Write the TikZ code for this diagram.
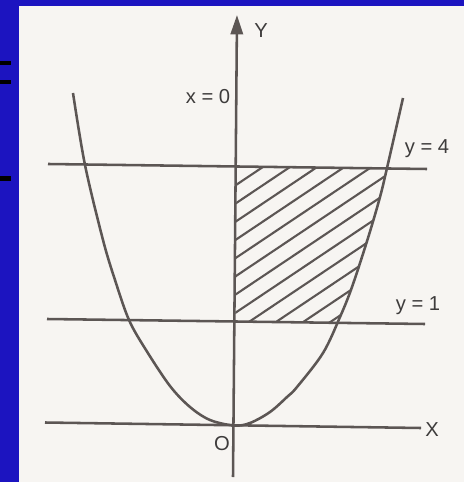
\documentclass[tikz,border=0pt]{standalone}
\usepackage{fontspec}
\setmainfont{Liberation Sans}
\usetikzlibrary{arrows.meta}
\definecolor{slideblue}{RGB}{28,20,192}
\definecolor{paper}{RGB}{247,245,242}
\definecolor{ink}{RGB}{92,86,84}
\definecolor{txt}{RGB}{62,60,60}
\begin{document}
\begin{tikzpicture}[x=0.02cm,y=-0.02cm,
  line/.style={draw=ink,line width=1.45pt},
  hatch/.style={draw=ink,line width=1.2pt},
  lab/.style={text=txt,font=\fontsize{11.5}{13}\selectfont,inner sep=0pt},
  tickbar/.style={fill=black}]
\useasboundingbox (0,0) rectangle (464,482);
\fill[slideblue] (0,0) rectangle (464,482);
\fill[paper] (19,6) rectangle (464,482);
\fill[tickbar] (0,61) rectangle (11,65);
\fill[tickbar] (0,80) rectangle (11,84);
\fill[tickbar] (0,176) rectangle (11,181);
% named end points
\coordinate (y4L) at (48,164);  \coordinate (y4R) at (427,169);
\coordinate (y1L) at (47,319);  \coordinate (y1R) at (425,324);
\coordinate (xL)  at (45,422.5);\coordinate (xR)  at (421,428);
\coordinate (yB)  at (233,477); \coordinate (yT)  at (237,15);
% hatching
\begin{scope}
  \clip (236.5,166.5) -- (235.4,321.3) -- (337.6,322.8) -- (340,317) -- (352,287) -- (360,263) -- (368,238) -- (373,218) -- (380,197) -- (387,168.5) -- cycle;
  \foreach \k in {0,...,11} {
    \pgfmathsetmacro\cc{185+18.2*\k}
    \draw[hatch] (226,{\cc+10*0.67}) -- (400,{\cc-164*0.67});
  }
\end{scope}
% lines
\draw[line] (y4L) -- (y4R);
\draw[line] (y1L) -- (y1R);
\draw[line] (xL) -- (xR);
\draw[line,-{Triangle[length=11pt,width=7pt]}] (yB) -- (yT);
% curve
\draw[line] plot[smooth,tension=0.55] coordinates {(73,93) (85,165) (103,240) (115,280) (129,320) (146,350) (170,386) (190,407) (210,420) (234,425.5) (250,423) (270,412) (287,397) (297,387) (323,353) (340,317) (352,287) (368,238) (380,197) (387,168) (403,98)};
% labels
\node[lab] (Ylab) at (261,31) {Y};
\node[lab] (x0) at (208,97) {x = 0};
\node[lab] (y4) at (427,149) {y = 4};
\node[lab] (y1) at (418,306) {y = 1};
\node[lab] (Xlab) at (432,430) {X};
\node[lab] (O) at (222,444) {O};
\end{tikzpicture}
\end{document}
